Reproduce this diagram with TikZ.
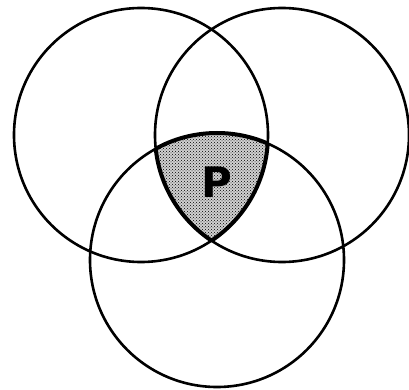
\documentclass[tikz,border=0pt]{standalone}
\usepackage{fontspec}
\newfontfamily\pfont{DejaVu Sans}
\usetikzlibrary{patterns}
\begin{document}
\begin{tikzpicture}[x=1pt,y=-1pt,
  ring/.style={draw=black,line width=2.6pt},
  rim/.style={draw=black,line width=4pt},
  shade/.style={pattern=crosshatch dots,pattern color=black}]
\useasboundingbox (0,0) rectangle (409,390);
\coordinate (L) at (141,135);
\coordinate (R) at (282,135);
\coordinate (B) at (217,260);
\def\rr{127}
% shaded common part
\begin{scope}
  \clip (L) circle (\rr);
  \clip (R) circle (\rr);
  \fill[black!18] (B) circle (\rr);
  \fill[shade] (B) circle (\rr);
\end{scope}
% the three circles
\draw[ring] (L) circle (\rr);
\draw[ring] (R) circle (\rr);
\draw[ring] (B) circle (\rr);
% thicker rim of the common part
\begin{scope}
  \clip (R) circle (\rr); \clip (B) circle (\rr);
  \draw[rim] (L) circle (\rr);
\end{scope}
\begin{scope}
  \clip (L) circle (\rr); \clip (B) circle (\rr);
  \draw[rim] (R) circle (\rr);
\end{scope}
\begin{scope}
  \clip (L) circle (\rr); \clip (R) circle (\rr);
  \draw[rim] (B) circle (\rr);
\end{scope}
\node[inner sep=0] (p) at (217,182) {\fontsize{42}{42}\selectfont\pfont\bfseries P};
\end{tikzpicture}
\end{document}
